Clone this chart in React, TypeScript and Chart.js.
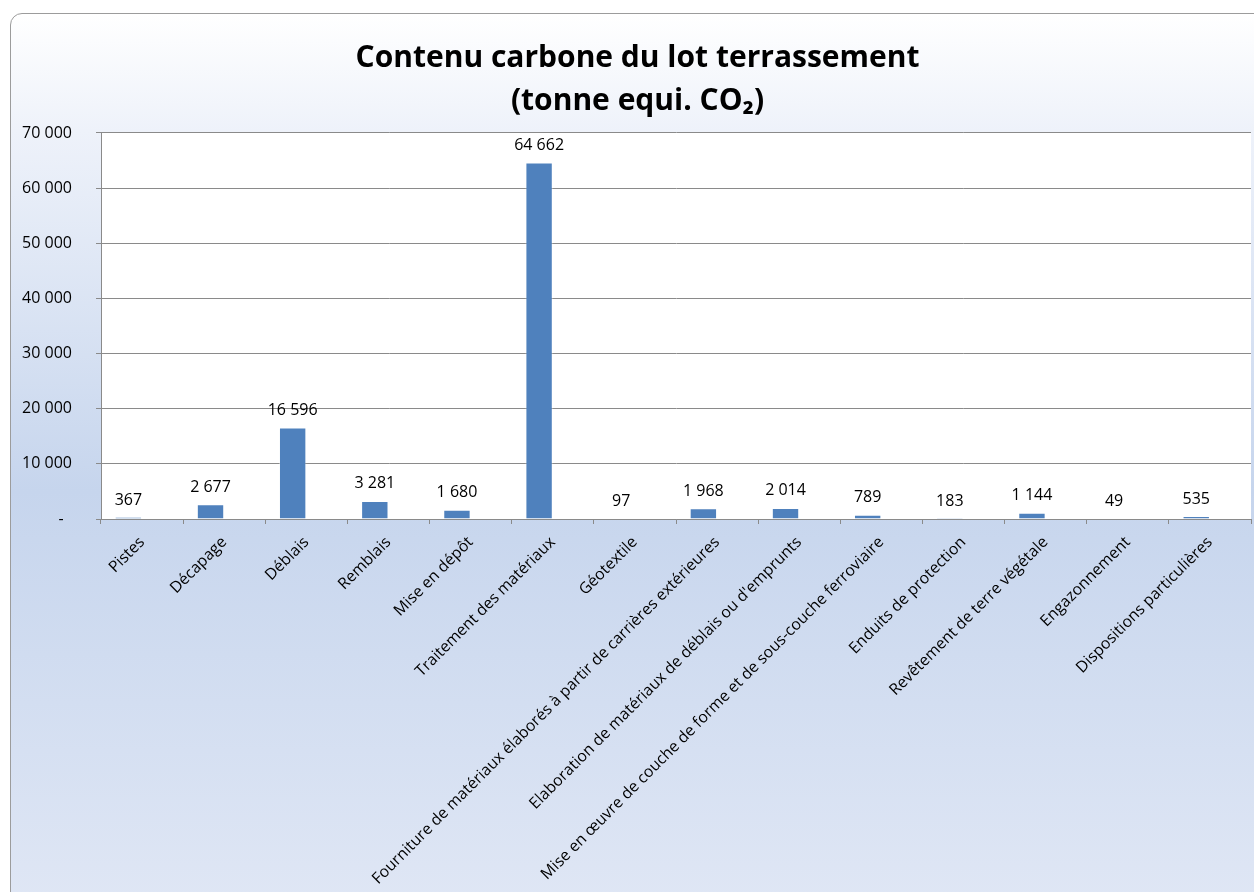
import React, { useEffect, useRef } from 'react';
import { Chart, registerables } from 'chart.js';

Chart.register(...registerables);

const categories = [
  'Pistes',
  'Décapage',
  'Déblais',
  'Remblais',
  'Mise en dépôt',
  'Traitement des matériaux',
  'Géotextile',
  'Fourniture de matériaux élaborés à partir de carrières extérieures',
  "Elaboration de matériaux de déblais ou d'emprunts",
  'Mise en œuvre de couche de forme et de sous-couche ferroviaire',
  'Enduits de protection',
  'Revêtement de terre végétale',
  'Engazonnement',
  'Dispositions particulières',
];

const carbonValues = [367, 2677, 16596, 3281, 1680, 64662, 97, 1968, 2014, 789, 183, 1144, 49, 535];

// second (empty) series of the original workbook, which keeps its slot in each category
const emptySeries = [null, null, null, null, null, null, null, null, null, null, null, null, null, null];

const titleLines = ['Contenu carbone du lot terrassement', '(tonne equi. CO₂)'];

const yMin = 0;
const yMax = 70000;
const yStep = 10000;

const FONT = '"Open Sans", Lato, sans-serif';
const BAR_COLOR = '#4F81BD';
const GRID_COLOR = '#8a8a8a';

const fmtThousands = (v: number) =>
  Math.round(v).toString().replace(/\B(?=(\d{3})+(?!\d))/g, ' ');

const fmtTick = (v: number) => (v === 0 ? '-  ' : fmtThousands(v));

const plotBackground = {
  id: 'plotBackground',
  beforeDraw(chart: any) {
    const { ctx, chartArea: a } = chart;
    ctx.save();
    ctx.fillStyle = '#ffffff';
    ctx.fillRect(a.left, a.top, a.right - a.left, a.bottom - a.top);
    ctx.restore();
  },
};

const valueLabels = {
  id: 'valueLabels',
  afterDatasetsDraw(chart: any) {
    const { ctx } = chart;
    const meta = chart.getDatasetMeta(0);
    ctx.save();
    ctx.font = `16px ${FONT}`;
    ctx.fillStyle = '#000000';
    ctx.textAlign = 'center';
    ctx.textBaseline = 'middle';
    meta.data.forEach((bar: any, i: number) => {
      const v = carbonValues[i];
      if (v == null) return;
      ctx.fillText(fmtThousands(v), bar.x, bar.y - 17);
    });
    ctx.restore();
  },
};

export default function App() {
  const canvasRef = useRef<HTMLCanvasElement | null>(null);

  useEffect(() => {
    if (!canvasRef.current) return;
    const chart = new Chart(canvasRef.current, {
      type: 'bar',
      data: {
        labels: categories,
        datasets: [
          {
            label: 'Contenu carbone',
            data: carbonValues,
            backgroundColor: BAR_COLOR,
            borderColor: 'rgba(255,255,255,0.35)',
            borderWidth: 1,
            categoryPercentage: 2 / 3,
            barPercentage: 1,
          },
          {
            label: '',
            data: emptySeries as any,
            backgroundColor: '#C0504D',
            categoryPercentage: 2 / 3,
            barPercentage: 1,
          },
        ],
      },
      options: {
        responsive: false,
        animation: false,
        layout: { padding: { left: 0, right: 7, top: 0, bottom: 0 } },
        plugins: {
          legend: { display: false },
          tooltip: { enabled: false },
          title: {
            display: true,
            text: titleLines,
            color: '#000000',
            font: { family: FONT, size: 30, weight: 'bold', lineHeight: 1.433 },
            padding: { top: 22.5, bottom: 10.5 },
          },
        },
        scales: {
          x: {
            type: 'category',
            offset: true,
            grid: {
              offset: true,
              drawOnChartArea: false,
              drawTicks: true,
              tickLength: 5,
              color: GRID_COLOR,
            },
            border: { display: true, color: GRID_COLOR },
            ticks: {
              autoSkip: false,
              minRotation: 45,
              maxRotation: 45,
              color: '#000000',
              font: { family: FONT, size: 15.75 },
              padding: 9,
            },
            afterFit: (s: any) => {
              s.height = 395;
            },
          },
          y: {
            min: yMin,
            max: yMax,
            grid: {
              color: GRID_COLOR,
              drawTicks: true,
              tickLength: 5,
            },
            border: { display: true, color: GRID_COLOR },
            ticks: {
              stepSize: yStep,
              color: '#000000',
              font: { family: FONT, size: 16 },
              padding: 24,
              callback: (v: any) => fmtTick(Number(v)),
            },
            afterFit: (s: any) => {
              s.width = 90;
            },
          },
          yRight: {
            position: 'right',
            display: true,
            grid: { display: false, drawTicks: false },
            border: { display: false },
            ticks: { display: false },
            afterFit: (s: any) => {
              s.width = 13;
            },
          },
        },
      } as any,
      plugins: [plotBackground, valueLabels],
    });
    return () => chart.destroy();
  }, []);

  return (
    <div style={{ position: 'fixed', inset: 0, overflow: 'hidden', background: '#ffffff' }}>
      <div
        style={{
          position: 'absolute',
          left: 10,
          top: 13,
          width: 1260,
          height: 900,
          border: '1px solid #9c9c9c',
          borderRadius: 12,
          overflow: 'hidden',
          background: 'linear-gradient(to bottom, #ffffff 0%, #eef2fa 13%, #c6d5ed 53%, #e0e7f5 100%)',
        }}
      >
        <canvas ref={canvasRef} width={1260} height={900} style={{ display: 'block' }} />
      </div>
    </div>
  );
}
